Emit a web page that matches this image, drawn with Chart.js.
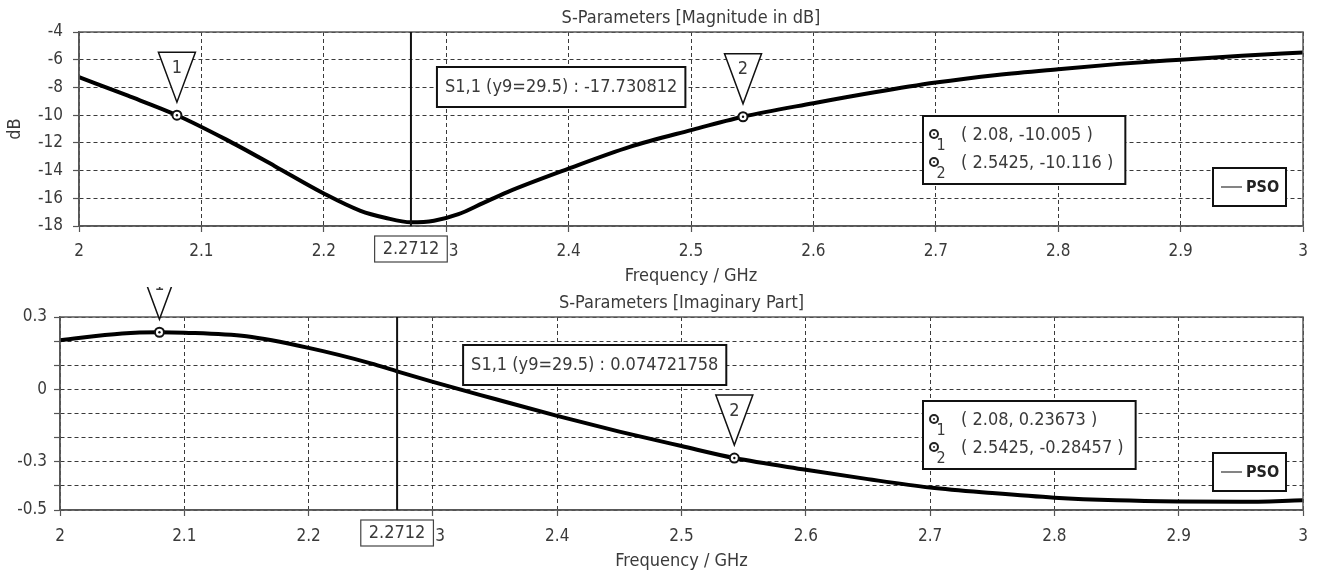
<!DOCTYPE html>
<html><head><meta charset="utf-8">
<script src="https://cdn.jsdelivr.net/npm/chart.js@4.4.1/dist/chart.umd.min.js"></script>
<style>
html,body{margin:0;padding:0;background:#fff;overflow:hidden;width:1319px;height:573px;}
#top{position:absolute;left:0;top:0;width:1319px;height:287px;}
#bot{position:absolute;left:0;top:287px;width:1319px;height:286px;}
canvas{display:block;}
</style></head><body>
<div id="top"><canvas id="c1" width="1319" height="287"></canvas></div>
<div id="bot"><canvas id="c2" width="1319" height="286"></canvas></div>
<script>
// ---- data ----
const freqMag = [2.00, 2.04, 2.08, 2.12, 2.16, 2.20, 2.23, 2.25, 2.2712, 2.29, 2.31, 2.33, 2.35, 2.40, 2.45, 2.50, 2.5425, 2.60, 2.65, 2.70, 2.75, 2.80, 2.85, 2.90, 2.95, 3.00];
const magDB   = [-7.26, -8.60, -10.005, -11.75, -13.68, -15.65, -16.9, -17.40, -17.73, -17.62, -17.15, -16.35, -15.55, -13.86, -12.29, -11.08, -10.116, -9.14, -8.35, -7.65, -7.10, -6.68, -6.30, -6.0, -5.72, -5.48];
const freqImag = [2.00, 2.05, 2.08, 2.10, 2.15, 2.20, 2.25, 2.2712, 2.30, 2.35, 2.40, 2.45, 2.50, 2.5425, 2.60, 2.65, 2.70, 2.75, 2.80, 2.85, 2.90, 2.95, 3.00];
const imagPart = [0.204, 0.232, 0.2367, 0.235, 0.22, 0.172, 0.108, 0.0747, 0.031, -0.040, -0.110, -0.175, -0.235, -0.2846, -0.333, -0.372, -0.407, -0.430, -0.449, -0.460, -0.465, -0.466, -0.460];
const xTickValues = [2, 2.1, 2.2, 2.3, 2.4, 2.5, 2.6, 2.7, 2.8, 2.9, 3];
const magYTicks = [-18, -16, -14, -12, -10, -8, -6, -4];
const imagYTicks = [-0.5, -0.4, -0.3, -0.2, -0.1, 0, 0.1, 0.2, 0.3];
const imagYLabels = [0.3, 0, -0.3, -0.5];
const markerFreq = [2.08, 2.5425];
const markerMag = [-10.005, -10.116];
const markerImag = [0.23673, -0.28457];
const cursorFreq = 2.2712;
const cursorMag = '-17.730812';
const cursorImag = '0.074721758';
const seriesName = 'PSO';

const FAM = "'DejaVu Sans Condensed', 'DejaVu Sans', sans-serif";
const TXT = '#3a3a3a';
const f = (s, w) => (w ? w + ' ' : '') + s + 'px ' + FAM;

const overlay = {
  id: 'overlay',
  afterDraw(chart) {
    const o = chart.options.plugins.overlay;
    const {ctx, chartArea: a} = chart;
    const x = chart.scales.x, y = chart.scales.y;
    ctx.save();
    // plot frame
    ctx.strokeStyle = '#5a5a5a'; ctx.lineWidth = 1.5;
    ctx.strokeRect(a.left, a.top, a.right - a.left, a.bottom - a.top);
    // title
    ctx.fillStyle = TXT; ctx.font = f(18); ctx.textAlign = 'center'; ctx.textBaseline = 'middle';
    ctx.fillText(o.title, (a.left + a.right) / 2, o.titleY);
    // cursor line
    const cx = x.getPixelForValue(cursorFreq);
    ctx.strokeStyle = '#111'; ctx.lineWidth = 2;
    ctx.beginPath(); ctx.moveTo(cx, a.top); ctx.lineTo(cx, a.bottom); ctx.stroke();
    // cursor frequency box under axis
    ctx.font = f(18);
    const ct = String(cursorFreq);
    const cw = ctx.measureText(ct).width + 16;
    ctx.fillStyle = '#fff'; ctx.fillRect(cx - cw / 2, a.bottom + 10, cw, 26);
    ctx.strokeStyle = '#444'; ctx.lineWidth = 1.2; ctx.strokeRect(cx - cw / 2, a.bottom + 10, cw, 26);
    ctx.fillStyle = TXT; ctx.textAlign = 'center'; ctx.fillText(ct, cx, a.bottom + 23.5);
    // cursor annotation box
    const at = 'S1,1 (y9=29.5) : ' + o.cursorVal;
    const aw = ctx.measureText(at).width + 16;
    const ax = cx + o.annotDx, ay = o.annotY;
    ctx.fillStyle = '#fff'; ctx.fillRect(ax, ay, aw, 40);
    ctx.strokeStyle = '#111'; ctx.lineWidth = 2; ctx.strokeRect(ax, ay, aw, 40);
    ctx.fillStyle = TXT; ctx.textAlign = 'left'; ctx.fillText(at, ax + 8, ay + 20.5);
    // markers
    for (let i = 0; i < markerFreq.length; i++) {
      const px = x.getPixelForValue(markerFreq[i]);
      const py = y.getPixelForValue(o.markerVals[i]);
      ctx.beginPath();
      ctx.moveTo(px - 18.5, py - 63); ctx.lineTo(px + 18.5, py - 63); ctx.lineTo(px, py - 13); ctx.closePath();
      ctx.fillStyle = '#fff'; ctx.fill();
      ctx.strokeStyle = '#111'; ctx.lineWidth = 1.5; ctx.stroke();
      ctx.fillStyle = TXT; ctx.font = f(18); ctx.textAlign = 'center'; ctx.textBaseline = 'middle';
      ctx.fillText(String(i + 1), px, py - 47);
      ctx.beginPath(); ctx.arc(px, py, 4.5, 0, Math.PI * 2);
      ctx.fillStyle = '#fff'; ctx.fill(); ctx.strokeStyle = '#111'; ctx.lineWidth = 2; ctx.stroke();
      ctx.beginPath(); ctx.arc(px, py, 1.2, 0, Math.PI * 2); ctx.fillStyle = '#111'; ctx.fill();
    }
    // marker table
    const tb = o.table;
    ctx.font = f(18);
    const rows = markerFreq.map((fr, i) => '( ' + fr + ', ' + o.markerVals[i] + ' )');
    const tw = Math.max(...rows.map(r => ctx.measureText(r).width)) + 38 + 12;
    ctx.fillStyle = '#fff'; ctx.fillRect(tb.x, tb.y, tw, 68);
    ctx.strokeStyle = '#111'; ctx.lineWidth = 2; ctx.strokeRect(tb.x, tb.y, tw, 68);
    rows.forEach((r, i) => {
      const ry = tb.y + 19 + i * 28;
      ctx.beginPath(); ctx.arc(tb.x + 11, ry - 1, 4, 0, Math.PI * 2);
      ctx.strokeStyle = '#222'; ctx.lineWidth = 2; ctx.stroke();
      ctx.beginPath(); ctx.arc(tb.x + 11, ry - 1, 1, 0, Math.PI * 2); ctx.fillStyle = '#222'; ctx.fill();
      ctx.fillStyle = TXT; ctx.font = f(16); ctx.textAlign = 'center';
      ctx.fillText(String(i + 1), tb.x + 18, ry + 11);
      ctx.font = f(18); ctx.textAlign = 'left';
      ctx.fillText(r, tb.x + 38, ry);
    });
    // legend
    const lg = o.legend;
    ctx.fillStyle = '#fff'; ctx.fillRect(lg.x, lg.y, 73, 38);
    ctx.strokeStyle = '#111'; ctx.lineWidth = 2; ctx.strokeRect(lg.x, lg.y, 73, 38);
    ctx.strokeStyle = '#333'; ctx.lineWidth = 1.2;
    ctx.beginPath(); ctx.moveTo(lg.x + 8, lg.y + 19); ctx.lineTo(lg.x + 29, lg.y + 19); ctx.stroke();
    ctx.fillStyle = '#222'; ctx.font = f(16, 'bold'); ctx.textAlign = 'left';
    ctx.fillText(seriesName, lg.x + 33, lg.y + 19.5);
    ctx.restore();
  }
};

function build(id, p) {
  return new Chart(document.getElementById(id), {
    type: 'line',
    data: { datasets: [{
      label: seriesName,
      data: p.xs.map((v, i) => ({x: v, y: p.ys[i]})),
      borderColor: '#000', borderWidth: 4, pointRadius: 0,
      cubicInterpolationMode: 'monotone', fill: false
    }]},
    options: {
      responsive: false, animation: false, devicePixelRatio: 1,
      layout: { padding: { top: p.top, right: 16, left: 0, bottom: 0 } },
      plugins: {
        legend: { display: false }, tooltip: { enabled: false }, title: { display: false },
        overlay: p.overlay
      },
      scales: {
        x: {
          type: 'linear', min: 2, max: 3,
          afterBuildTicks: s => { s.ticks = xTickValues.map(v => ({value: v})); },
          afterFit: s => { s.height = p.xH; },
          ticks: { autoSkip: false, maxRotation: 0, color: TXT, font: {family: FAM, size: 17}, padding: p.xPad,
                   callback: v => String(+(+v).toFixed(2)) },
          grid: { color: '#3a3a3a', lineWidth: 1, tickLength: 6, tickColor: '#555', tickWidth: 1.2, tickBorderDash: [] },
          border: { display: true, color: '#555', width: 1.5, dash: [4, 3] },
          title: { display: true, text: 'Frequency / GHz', color: TXT, font: {family: FAM, size: 18}, padding: {top: 0, bottom: p.xTitlePad} }
        },
        y: {
          type: 'linear', min: p.yMin, max: p.yMax,
          afterBuildTicks: s => { s.ticks = p.yTicks.map(v => ({value: v})); },
          afterFit: s => { s.width = p.yW; },
          ticks: { autoSkip: false, color: TXT, font: {family: FAM, size: 17}, padding: p.yPad, callback: p.yCb },
          grid: { color: '#3a3a3a', lineWidth: 1, tickLength: 6, tickColor: '#555', tickWidth: 1.2, tickBorderDash: [] },
          border: { display: true, color: '#555', width: 1.5, dash: [4, 3] },
          title: { display: !!p.yTitle, text: p.yTitle || '', color: TXT, font: {family: FAM, size: 18}, padding: {top: 5, bottom: 0} }
        }
      }
    },
    plugins: [overlay]
  });
}

build('c1', {
  xs: freqMag, ys: magDB, top: 32, xH: 61, yW: 79, xTitlePad: 0, yPad: 10, xPad: 9,
  yMin: -18, yMax: -4, yTicks: magYTicks, yTitle: 'dB',
  yCb: v => String(v),
  overlay: { title: 'S-Parameters [Magnitude in dB]', titleY: 18, cursorVal: cursorMag,
             annotDx: 26, annotY: 67, markerVals: markerMag,
             table: {x: 923, y: 116}, legend: {x: 1213, y: 168} }
});
build('c2', {
  xs: freqImag, ys: imagPart, top: 30, xH: 63, yW: 60, xTitlePad: 1, yPad: 7, xPad: 10,
  yMin: -0.5, yMax: 0.3, yTicks: imagYTicks, yTitle: '',
  yCb: v => { const r = Math.round(v * 10) / 10; return imagYLabels.some(l => Math.abs(l - r) < 1e-9) ? String(r) : ''; },
  overlay: { title: 'S-Parameters [Imaginary Part]', titleY: 16, cursorVal: cursorImag,
             annotDx: 66, annotY: 58, markerVals: markerImag,
             table: {x: 923, y: 114}, legend: {x: 1213, y: 166} }
});
</script>
</body></html>
